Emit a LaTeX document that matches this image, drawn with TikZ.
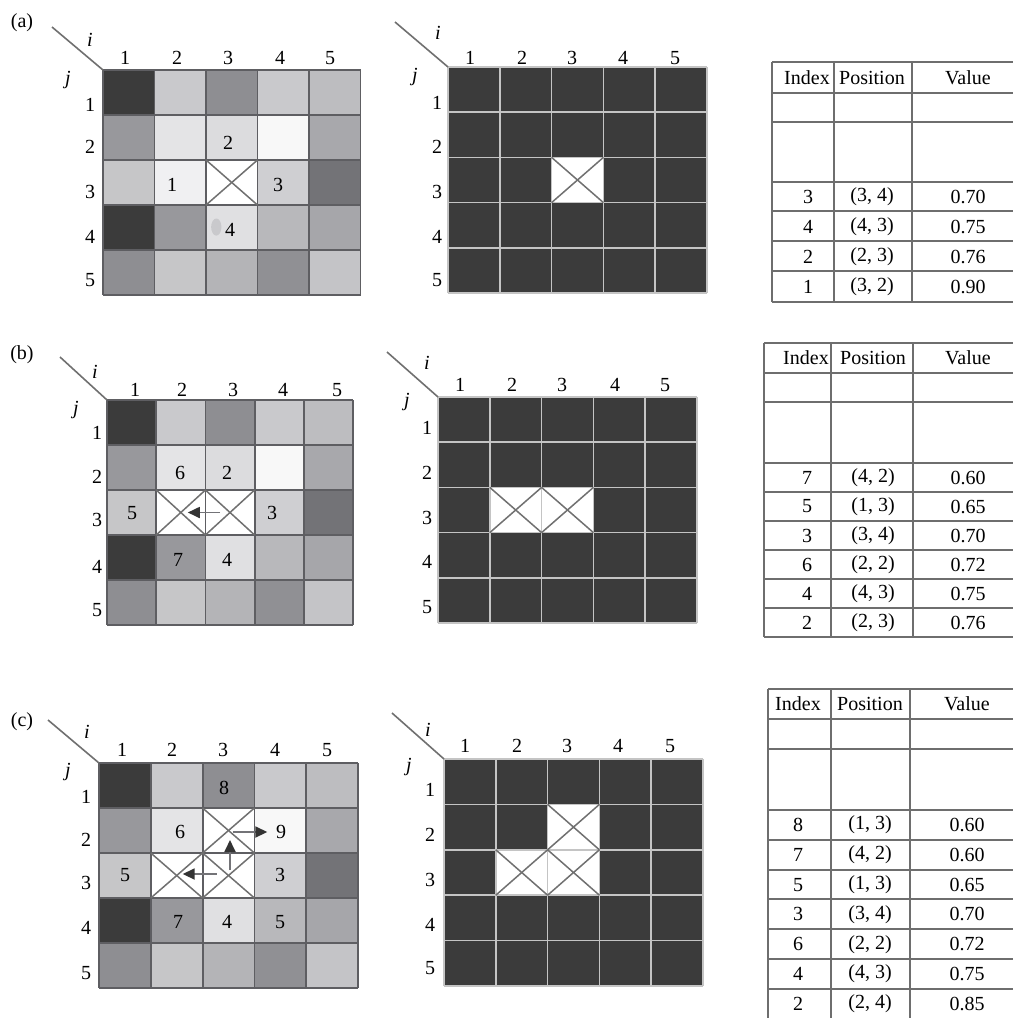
\documentclass[tikz,border=0pt]{standalone}
\usepackage{fontspec}
\setmainfont{Liberation Serif}
\usetikzlibrary{arrows.meta}
\definecolor{d3a}{HTML}{3B3B3B}
\definecolor{k33}{HTML}{333333}
\definecolor{cC8}{HTML}{C9C9CC}
\definecolor{c8E}{HTML}{8E8E92}
\definecolor{cBD}{HTML}{BDBDC0}
\definecolor{c98}{HTML}{98989C}
\definecolor{cE4}{HTML}{E4E4E6}
\definecolor{cDC}{HTML}{DCDCDE}
\definecolor{cF8}{HTML}{F8F8F8}
\definecolor{cA8}{HTML}{A8A8AC}
\definecolor{cC6}{HTML}{C6C6C8}
\definecolor{cF0}{HTML}{F0F0F2}
\definecolor{cCF}{HTML}{CFCFD2}
\definecolor{c70}{HTML}{737377}
\definecolor{cE0}{HTML}{E0E0E2}
\definecolor{cB8}{HTML}{B8B8BB}
\definecolor{cA6}{HTML}{A6A6AA}
\definecolor{c90}{HTML}{909094}
\definecolor{cB4}{HTML}{B4B4B7}
\definecolor{cC4}{HTML}{C4C4C7}
\definecolor{lgline}{HTML}{5E5E62}
\definecolor{mgline}{HTML}{C4C4C4}
\definecolor{xl}{HTML}{707070}
\definecolor{tl}{HTML}{6E6E6E}
\newcommand{\basegrid}{%
  \foreach \col [count=\k from 0] in {d3a,cC8,c8E,cC8,cBD,
      c98,cE4,cDC,cF8,cA8,
      cC6,cF0,white,cCF,c70,
      d3a,c98,cE0,cB8,cA6,
      c8E,cC6,cB4,c90,cC4} {
    \pgfmathtruncatemacro{\rr}{div(\k,5)}
    \pgfmathtruncatemacro{\cc}{mod(\k,5)}
    \fill[\col] (\cc,\rr) rectangle ++(1,1);
  }}
\newcommand{\gridlines}[1]{%
  \foreach \t in {0,...,5} {
    \draw[#1] (\t,0) -- (\t,5);
    \draw[#1] (0,\t) -- (5,\t);
  }}
\newcommand{\whitecell}[2]{\fill[white] (#1-1,#2-1) rectangle (#1,#2);}
\newcommand{\crosscell}[2]{\draw[xline] (#1-1,#2-1) -- (#1,#2) (#1,#2-1) -- (#1-1,#2);}
\tikzset{
  lgl/.style={draw=lgline, line width=1.8pt},
  mgl/.style={draw=mgline, line width=1.6pt},
  xline/.style={draw=xl, line width=1.5pt},
  diag/.style={draw=xl, line width=1.6pt},
  tline/.style={draw=tl, line width=1.6pt},
  arr/.style={draw=c70, line width=1.8pt, -{Triangle[length=12pt,width=11pt,color=k33]}},
  lab/.style={inner sep=0pt},
  ital/.style={inner sep=0pt, font=\fontsize{20}{24}\selectfont\itshape},
}
\begin{document}
\begin{tikzpicture}[x=1pt,y=-1pt,font=\fontsize{20}{24}\selectfont]
\useasboundingbox (0,0) rectangle (1013,1018);
\fill[white] (0,0) rectangle (1013,1018);

% ================= (a) =================
\node[lab] (pa) at (22,23) {(a)};
% left grid
\begin{scope}[shift={(103,70)}, x=51.5pt, y=-45pt]
  \basegrid
  \fill[cC8] (2.2,3.49) ellipse (0.1 and 0.19);
  \gridlines{lgl}
  \crosscell{3}{3}
  \coordinate (aLc) at (0,0);
\end{scope}
\coordinate (aLd) at (52,27);
\draw[diag] (aLd) -- (aLc);
\node[ital] (aLi) at (90,40) {i};
\node[ital] (aLj) at (68,80) {j};
\foreach \x [count=\n] in {125,177,228,280,330} \node[lab] (aLcol\n) at (\x,58) {\n};
\foreach \y [count=\n] in {105,147,192,237,280} \node[lab] (aLrow\n) at (90,\y) {\n};
\node[lab] (aN2) at (228,143) {2};
\node[lab] (aN1) at (172,185) {1};
\node[lab] (aN3) at (278,185) {3};
\node[lab] (aN4) at (230,230) {4};
% middle grid
\begin{scope}[shift={(448,67)}, x=51.8pt, y=-45.2pt]
  \fill[d3a] (0,0) rectangle (5,5);
  \whitecell{3}{3}
  \gridlines{mgl}
  \crosscell{3}{3}
  \coordinate (aMc) at (0,0);
\end{scope}
\coordinate (aMd) at (395,22);
\draw[diag] (aMd) -- (aMc);
\node[ital] (aMi) at (438,33) {i};
\node[ital] (aMj) at (415,77) {j};
\foreach \x [count=\n] in {470,522,572,623,675} \node[lab] (aMcol\n) at (\x,58) {\n};
\foreach \y [count=\n] in {103,147,192,237,280} \node[lab] (aMrow\n) at (437,\y) {\n};
% table
\foreach \y in {62,93,122,182,211,241,271,302} \draw[tline] (772,\y) -- (1013,\y);
\foreach \x in {772,834,912} \draw[tline] (\x,62) -- (\x,302);
\node[lab] (aTh1) at (807,77.5) {Index};
\node[lab] (aTh2) at (872,77.5) {Position};
\node[lab] (aTh3) at (968,77.5) {Value};
\foreach \i/\a/\b/\v [count=\n] in {3/3/4/0.70, 4/4/3/0.75, 2/2/3/0.76, 1/3/2/0.90} {
  \node[lab] (aTi\n) at (808,196.5+30*\n-30) {\i};
  \node[lab] (aTp\n) at (872,196.5+30*\n-30) {(\a, \b)};
  \node[lab] (aTv\n) at (968,196.5+30*\n-30) {\v};
}

% ================= (b) =================
\node[lab] (pb) at (22,355) {(b)};
\begin{scope}[shift={(107,400)}, x=49.2pt, y=-45pt]
  \basegrid
  \whitecell{2}{3}
  \gridlines{lgl}
  \crosscell{2}{3}
  \crosscell{3}{3}
  \coordinate (bLc) at (0,0);
  \coordinate (b33) at (2.5,2.5);
  \coordinate (b32) at (1.5,2.5);
\end{scope}
\coordinate (bLd) at (60,357);
\draw[diag] (bLd) -- (bLc);
\node[ital] (bLi) at (95,372) {i};
\node[ital] (bLj) at (76,410) {j};
\foreach \x [count=\n] in {135,182,233,283,337} \node[lab] (bLcol\n) at (\x,390) {\n};
\foreach \y [count=\n] in {433,477,520,567,610} \node[lab] (bLrow\n) at (97,\y) {\n};
\node[lab] (bN6) at (180,473) {6};
\node[lab] (bN2) at (227,473) {2};
\node[lab] (bN5) at (132,513) {5};
\node[lab] (bN3) at (272,513) {3};
\node[lab] (bN7) at (178,560) {7};
\node[lab] (bN4) at (227,560) {4};
\draw[arr] ([xshift=-10pt]b33) -- ([xshift=7pt]b32);
% middle grid
\begin{scope}[shift={(438,397)}, x=51.8pt, y=-45.2pt]
  \fill[d3a] (0,0) rectangle (5,5);
  \whitecell{2}{3}
  \whitecell{3}{3}
  \gridlines{mgl}
  \crosscell{2}{3}
  \crosscell{3}{3}
  \coordinate (bMc) at (0,0);
\end{scope}
\coordinate (bMd) at (387,352);
\draw[diag] (bMd) -- (bMc);
\node[ital] (bMi) at (427,363) {i};
\node[ital] (bMj) at (407,402) {j};
\foreach \x [count=\n] in {460,512,562,615,665} \node[lab] (bMcol\n) at (\x,385) {\n};
\foreach \y [count=\n] in {428,473,518,562,607} \node[lab] (bMrow\n) at (427,\y) {\n};
% table
\foreach \y in {343,373,402,463,492,521,550,579,608,637} \draw[tline] (764,\y) -- (1013,\y);
\foreach \x in {764,831,913} \draw[tline] (\x,343) -- (\x,637);
\node[lab] (bTh1) at (806,358) {Index};
\node[lab] (bTh2) at (873,358) {Position};
\node[lab] (bTh3) at (968,358) {Value};
\foreach \i/\a/\b/\v [count=\n] in {7/4/2/0.60, 5/1/3/0.65, 3/3/4/0.70, 6/2/2/0.72, 4/4/3/0.75, 2/2/3/0.76} {
  \node[lab] (bTi\n) at (807,477.5+29*\n-29) {\i};
  \node[lab] (bTp\n) at (873,477.5+29*\n-29) {(\a, \b)};
  \node[lab] (bTv\n) at (968,477.5+29*\n-29) {\v};
}

% ================= (c) =================
\node[lab] (pc) at (22,722) {(c)};
\begin{scope}[shift={(99,763)}, x=51.8pt, y=-45pt]
  \basegrid
  \whitecell{2}{3}
  \whitecell{3}{2}
  \gridlines{lgl}
  \crosscell{2}{3}
  \crosscell{3}{3}
  \crosscell{3}{2}
  \coordinate (cLc) at (0,0);
  \coordinate (c33) at (2.5,2.5);
  \coordinate (c32) at (1.5,2.5);
  \coordinate (c23) at (2.5,1.5);
  \coordinate (c24) at (3.5,1.5);
\end{scope}
\coordinate (cLd) at (48,720);
\draw[diag] (cLd) -- (cLc);
\node[ital] (cLi) at (87,732) {i};
\node[ital] (cLj) at (68,772) {j};
\foreach \x [count=\n] in {122,172,223,275,327} \node[lab] (cLcol\n) at (\x,750) {\n};
\foreach \y [count=\n] in {797,840,883,928,973} \node[lab] (cLrow\n) at (86,\y) {\n};
\node[lab] (cN8) at (224,788) {8};
\node[lab] (cN6) at (180,832) {6};
\node[lab] (cN9) at (281,832) {9};
\node[lab] (cN5a) at (125,875) {5};
\node[lab] (cN3) at (280,875) {3};
\node[lab] (cN7) at (178,922) {7};
\node[lab] (cN4) at (227,922) {4};
\node[lab] (cN5b) at (280,922) {5};
\draw[arr] ([xshift=-12pt,yshift=1.5pt]c33) -- ([xshift=6pt,yshift=1.5pt]c32);
\draw[arr] ([xshift=1.5pt,yshift=5.5pt]c33) -- ([xshift=1.5pt,yshift=35.5pt]c33);
\draw[arr] ([xshift=4pt,yshift=-1.5pt]c23) -- ([xshift=-13pt,yshift=-1.5pt]c24);
% middle grid
\begin{scope}[shift={(444,759)}, x=51.8pt, y=-45.4pt]
  \fill[d3a] (0,0) rectangle (5,5);
  \whitecell{2}{3}
  \whitecell{3}{3}
  \whitecell{3}{2}
  \gridlines{mgl}
  \crosscell{2}{3}
  \crosscell{3}{3}
  \crosscell{3}{2}
  \coordinate (cMc) at (0,0);
\end{scope}
\coordinate (cMd) at (392,713);
\draw[diag] (cMd) -- (cMc);
\node[ital] (cMi) at (428,730) {i};
\node[ital] (cMj) at (409,767) {j};
\foreach \x [count=\n] in {465,517,567,618,670} \node[lab] (cMcol\n) at (\x,746) {\n};
\foreach \y [count=\n] in {790,835,880,925,968} \node[lab] (cMrow\n) at (430,\y) {\n};
% table
\foreach \y in {689,719,749,810,840,870,899,929,959,989} \draw[tline] (768,\y) -- (1013,\y);
\foreach \x in {768,831,910} \draw[tline] (\x,689) -- (\x,1018);
\node[lab] (cTh1) at (798,704) {Index};
\node[lab] (cTh2) at (870,704) {Position};
\node[lab] (cTh3) at (967,704) {Value};
\foreach \i/\a/\b/\v [count=\n] in {8/1/3/0.60, 7/4/2/0.60, 5/1/3/0.65, 3/3/4/0.70, 6/2/2/0.72, 4/4/3/0.75, 2/2/4/0.85} {
  \node[lab] (cTi\n) at (798,825+29.8*\n-29.8) {\i};
  \node[lab] (cTp\n) at (870,825+29.8*\n-29.8) {(\a, \b)};
  \node[lab] (cTv\n) at (967,825+29.8*\n-29.8) {\v};
}
\end{tikzpicture}
\end{document}
